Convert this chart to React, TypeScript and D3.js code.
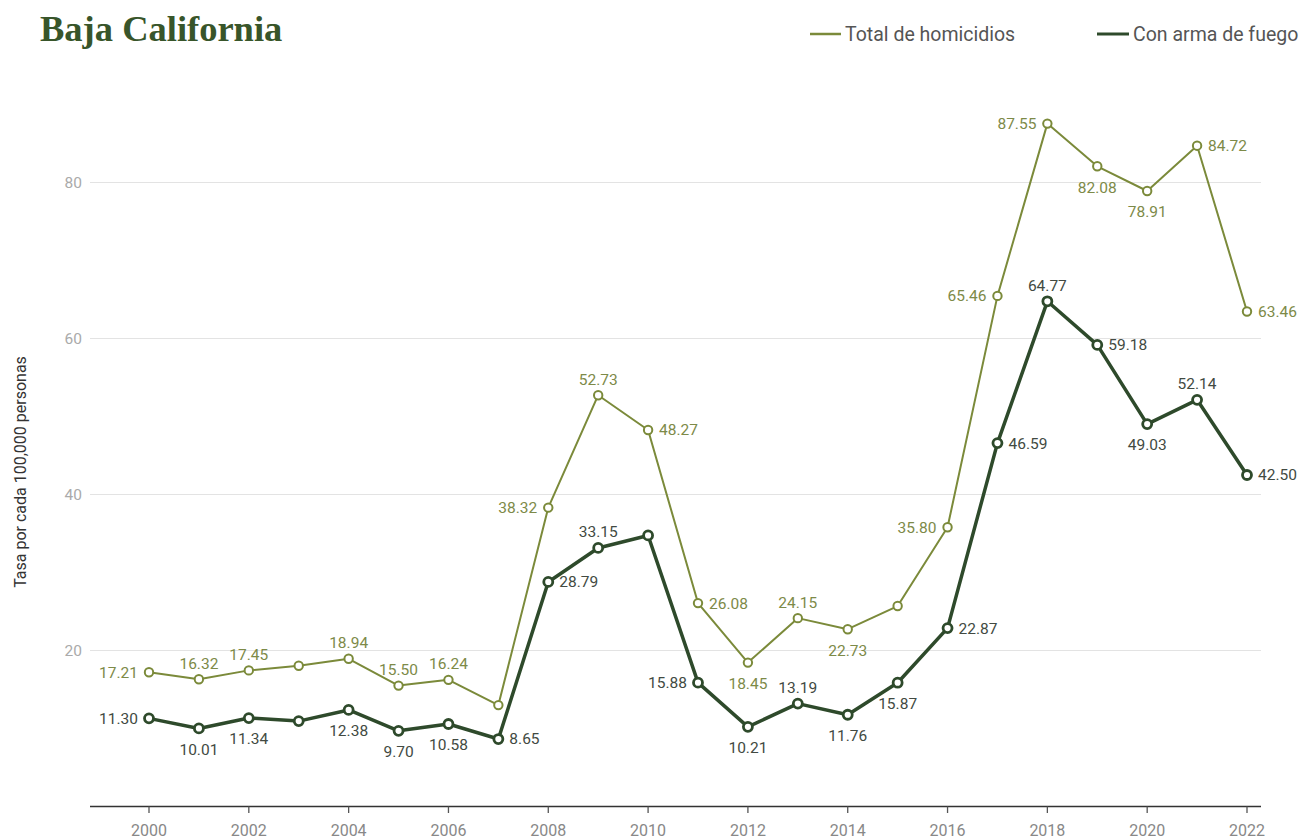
import React from "react";
import * as d3 from "d3";

const years = [2000,2001,2002,2003,2004,2005,2006,2007,2008,2009,2010,2011,2012,2013,2014,2015,2016,2017,2018,2019,2020,2021,2022];
const totalValues = [17.21,16.32,17.45,18.05,18.94,15.50,16.24,13.0,38.32,52.73,48.27,26.08,18.45,24.15,22.73,25.7,35.80,65.46,87.55,82.08,78.91,84.72,63.46];
const firearmValues = [11.30,10.01,11.34,10.95,12.38,9.70,10.58,8.65,28.79,33.15,34.75,15.88,10.21,13.19,11.76,15.87,22.87,46.59,64.77,59.18,49.03,52.14,42.50];
// label placement: l=left, r=right, a=above, b=below, n=none
const totalLabelPos = ["l","a","a","n","a","a","a","n","l","a","r","r","b","a","b","n","l","l","l","b","b","r","r"];
const firearmLabelPos = ["l","b","b","n","b","b","b","r","r","a","n","l","b","a","b","b","r","r","a","r","b","a","r"];
const yTicks = [20,40,60,80];
const xTicks = [2000,2002,2004,2006,2008,2010,2012,2014,2016,2018,2020,2022];
const seriesNames = ["Total de homicidios","Con arma de fuego"];

const W = 1306, H = 840;
const OLIVE = "#7b8a3a";
const DARK = "#2e4a2b";
const OLIVE_TEXT = "#7d8a48";
const DARK_TEXT = "#424a42";

export default function App() {
  const x = d3.scaleLinear().domain([2000, 2022]).range([149, 1247]);
  const y = d3.scaleLinear().domain([0, 80]).range([806.5, 182.5]);
  const axisLeft = 90, axisRight = 1261;
  const line = d3.line<number>().x((_, i) => x(years[i])).y(d => y(d));

  const labelProps = (pos: string, px: number, py: number) => {
    const off = 11;
    if (pos === "l") return { x: px - off, y: py, textAnchor: "end", dy: "0.35em" };
    if (pos === "r") return { x: px + off, y: py, textAnchor: "start", dy: "0.35em" };
    if (pos === "a") return { x: px, y: py - 16, textAnchor: "middle", dy: "0.35em" };
    return { x: px, y: py + 21, textAnchor: "middle", dy: "0.35em" };
  };

  const renderSeries = (vals: number[], pos: string[], color: string, textColor: string, sw: number, r: number) => (
    <g>
      <path d={line(vals) || ""} fill="none" stroke={color} strokeWidth={sw} strokeLinejoin="round" />
      {vals.map((v, i) => (
        <circle key={i} cx={x(years[i])} cy={y(v)} r={r} fill="#fff" stroke={color} strokeWidth={sw === 2 ? 2 : 2.8} />
      ))}
      {vals.map((v, i) => {
        if (pos[i] === "n") return null;
        const p = labelProps(pos[i], x(years[i]), y(v));
        return (
          <text key={"t" + i} x={p.x} y={p.y} dy={p.dy} textAnchor={p.textAnchor as any} fill={textColor} fontSize={15.5} fontFamily="Roboto, sans-serif">
            {v.toFixed(2)}
          </text>
        );
      })}
    </g>
  );

  return (
    <svg width={W} height={H} style={{ position: "absolute", left: 0, top: 0 }} fontFamily="Roboto, sans-serif">
      <rect width={W} height={H} fill="#fff" />
      <text x={40} y={41} fontFamily="'Liberation Serif', 'DejaVu Serif', serif" fontWeight="bold" fontSize={36.5} fill="#38552a">Baja California</text>

      {/* legend */}
      <line x1={810} x2={841} y1={34} y2={34} stroke={OLIVE} strokeWidth={2.5} />
      <text x={845} y={34} dy="0.35em" fontSize={19.5} fill="#555">{seriesNames[0]}</text>
      <line x1={1097} x2={1129} y1={34} y2={34} stroke={DARK} strokeWidth={3} />
      <text x={1133} y={34} dy="0.35em" fontSize={19.5} fill="#555">{seriesNames[1]}</text>

      {/* grid */}
      {yTicks.map(t => (
        <g key={t}>
          <line x1={axisLeft} x2={axisRight} y1={y(t)} y2={y(t)} stroke="#e3e3e3" strokeWidth={1} />
          <text x={82} y={y(t)} dy="0.35em" textAnchor="end" fontSize={15.5} fill="#aaa">{t}</text>
        </g>
      ))}

      {/* x axis */}
      <line x1={axisLeft} x2={axisRight} y1={806.5} y2={806.5} stroke="#333" strokeWidth={1.3} />
      {xTicks.map(t => (
        <g key={t}>
          <line x1={x(t)} x2={x(t)} y1={806.5} y2={813} stroke="#555" strokeWidth={1.3} />
          <text x={x(t)} y={830} dy="0.35em" textAnchor="middle" fontSize={16} fill="#888">{t}</text>
        </g>
      ))}

      <text transform={`translate(26,472) rotate(-90)`} textAnchor="middle" fontSize={16} fill="#333">Tasa por cada 100,000 personas</text>

      {renderSeries(totalValues, totalLabelPos, OLIVE, OLIVE_TEXT, 2, 4.2)}
      {renderSeries(firearmValues, firearmLabelPos, DARK, DARK_TEXT, 3.5, 4.5)}
    </svg>
  );
}
